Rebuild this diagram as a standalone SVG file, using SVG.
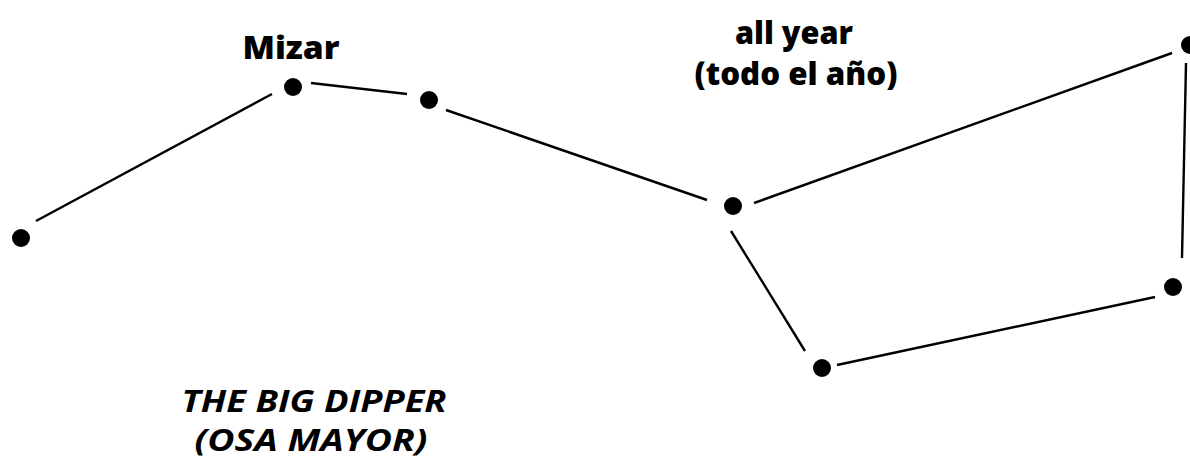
<svg xmlns="http://www.w3.org/2000/svg" width="1190" height="467" viewBox="0 0 1190 467">
  <style>
    .star { fill: #000; }
    .link { stroke: #000; stroke-width: 2.4; fill: none; stroke-linecap: butt; }
    .lbl { font-family: "Open Sans", "Liberation Sans", sans-serif; fill: #000; text-anchor: middle; }
    .b { font-weight: 800; }
    .t { font-weight: 700; font-style: italic; }
  </style>
  <rect width="1190" height="467" fill="#fff"/>

  <!-- connectors between the stars, with small gaps at each end -->
  <g id="connectors">
    <line class="link" x1="36" y1="221" x2="272" y2="94"/>
    <line class="link" x1="311" y1="83" x2="407" y2="94"/>
    <line class="link" x1="446" y1="110" x2="707" y2="200"/>
    <line class="link" x1="754" y1="203" x2="1172" y2="53"/>
    <line class="link" x1="1186" y1="63" x2="1182" y2="258"/>
    <line class="link" x1="1155" y1="297" x2="837" y2="365"/>
    <line class="link" x1="805" y1="351" x2="731" y2="231"/>
  </g>

  <g id="star-alkaid"><circle class="star" cx="21" cy="238" r="9"/></g>
  <g id="star-mizar"><circle class="star" cx="293" cy="87" r="9"/></g>
  <g id="star-alioth"><circle class="star" cx="429" cy="100" r="9"/></g>
  <g id="star-megrez"><circle class="star" cx="733" cy="206" r="9"/></g>
  <g id="star-dubhe"><circle class="star" cx="1190" cy="45" r="9"/></g>
  <g id="star-merak"><circle class="star" cx="1173" cy="287" r="9"/></g>
  <g id="star-phecda"><circle class="star" cx="822" cy="368" r="9"/></g>

  <g id="label-mizar">
    <text class="lbl b" x="291" y="59" font-size="32" textLength="97" lengthAdjust="spacingAndGlyphs">Mizar</text>
  </g>
  <g id="label-season">
    <text class="lbl b" x="794" y="44" font-size="31" textLength="118" lengthAdjust="spacingAndGlyphs">all year</text>
    <text class="lbl b" x="796" y="85" font-size="31" textLength="203" lengthAdjust="spacingAndGlyphs">(todo el año)</text>
  </g>
  <g id="label-title">
    <text class="lbl t" x="314" y="412" font-size="31" textLength="265" lengthAdjust="spacingAndGlyphs">THE BIG DIPPER</text>
    <text class="lbl t" x="311" y="451" font-size="31" textLength="233" lengthAdjust="spacingAndGlyphs">(OSA MAYOR)</text>
  </g>
</svg>
